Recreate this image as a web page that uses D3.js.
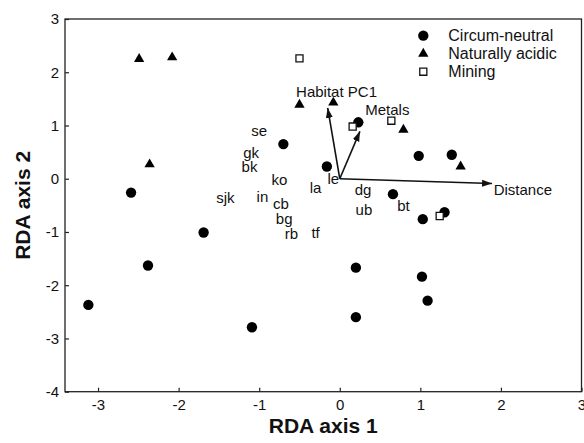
<!DOCTYPE html>
<html>
  <head>
    <meta charset="UTF-8" />
    <style>
      body {
        margin: 0;
        background: #fff;
        font-family: "Liberation Sans", Arial, sans-serif;
      }
      svg text {
        fill: #111;
      }
    </style>
  </head>
  <body>
    <svg></svg>
    <script src="https://d3js.org/d3.v7.min.js"></script>
    <script>
      // Sites: RDA axis 1 / axis 2 scores, by group
      let neutralX = [-0.70, -0.16, 0.23, 0.98, 1.39, 0.66, 1.03, 1.30, 0.20, 1.02, 1.09, 0.20, -3.12, -2.38, -1.69, -1.09, -2.59];
      let neutralY = [0.65, 0.23, 1.06, 0.43, 0.45, -0.29, -0.76, -0.63, -1.67, -1.84, -2.29, -2.60, -2.37, -1.63, -1.01, -2.79, -0.26];

      let acidicX = [-2.49, -2.08, -2.36, -0.50, -0.08, 0.79, 1.50];
      let acidicY = [2.25, 2.28, 0.27, 1.39, 1.43, 0.92, 0.23];

      let miningX = [-0.50, 0.16, 0.64, 1.24];
      let miningY = [2.26, 0.98, 1.09, -0.70];

      // Species labels
      let speciesNames = ["se", "gk", "bk", "ko", "sjk", "in", "cb", "bg", "rb", "tf", "la", "le", "dg", "ub", "bt"];
      let speciesX = [-1.00, -1.10, -1.12, -0.75, -1.42, -0.96, -0.73, -0.69, -0.60, -0.30, -0.30, -0.08, 0.29, 0.30, 0.79];
      let speciesY = [0.89, 0.47, 0.22, -0.04, -0.37, -0.35, -0.49, -0.77, -1.05, -1.03, -0.19, -0.01, -0.22, -0.60, -0.52];

      // Environmental vectors
      let vectorNames = ["Habitat PC1", "Metals", "Distance"];
      let vectorX = [-0.15, 0.25, 1.89];
      let vectorY = [1.33, 0.89, -0.09];
      let vectorLabelX = [-0.04, 0.59, 1.91];
      let vectorLabelY = [1.64, 1.30, -0.21];
      let vectorAnchor = ["middle", "middle", "start"];

      let xTicks = [-3, -2, -1, 0, 1, 2, 3];
      let yTicks = [-4, -3, -2, -1, 0, 1, 2, 3];

      let groups = ["Circum-neutral", "Naturally acidic", "Mining"];

      let width = 584,
        height = 443;
      let margin = { top: 19, right: 2.5, bottom: 51.3, left: 65 };

      let svg = d3.select("svg").attr("width", width).attr("height", height);

      let x = d3
        .scaleLinear()
        .domain([-3.41, 3])
        .range([margin.left, width - margin.right]);
      let y = d3
        .scaleLinear()
        .domain([-4, 3])
        .range([height - margin.bottom, margin.top]);

      // symbols
      let symbolFor = {
        "Circum-neutral": d3.symbol().type(d3.symbolCircle).size(84)(),
        "Naturally acidic": d3.symbol().type(d3.symbolTriangle).size(46)(),
        Mining: d3.symbol().type(d3.symbolSquare).size(50)(),
      };
      let fillFor = { "Circum-neutral": "#000", "Naturally acidic": "#000", Mining: "#fff" };

      // plain hyphen, no decimals
      let fmt = (d) => String(d);

      // axes
      let xAxis = svg
        .append("g")
        .attr("transform", "translate(0," + (height - margin.bottom) + ")")
        .call(d3.axisBottom(x).tickValues(xTicks).tickFormat(fmt).tickSizeInner(-4).tickSizeOuter(0).tickPadding(8));
      let yAxis = svg
        .append("g")
        .attr("transform", "translate(" + margin.left + ",0)")
        .call(d3.axisLeft(y).tickValues(yTicks).tickFormat(fmt).tickSizeInner(-4).tickSizeOuter(0).tickPadding(6));

      [xAxis, yAxis].forEach((a) => {
        a.select(".domain").remove();
        a.selectAll("line").attr("stroke", "#222").attr("stroke-width", 1.2);
        a.selectAll("text")
          .attr("font-family", "'Liberation Sans', Arial, sans-serif")
          .attr("font-size", 15)
          .attr("fill", "#111");
      });

      // frame
      svg
        .append("rect")
        .attr("x", x.range()[0])
        .attr("y", y.range()[1])
        .attr("width", x.range()[1] - x.range()[0])
        .attr("height", y.range()[0] - y.range()[1])
        .attr("fill", "none")
        .attr("stroke", "#222")
        .attr("stroke-width", 1.3);

      // axis titles
      svg
        .append("text")
        .attr("x", (x.range()[0] + x.range()[1]) / 2)
        .attr("y", 433)
        .attr("text-anchor", "middle")
        .attr("font-size", 21)
        .attr("font-weight", "bold")
        .text("RDA axis 1");

      svg
        .append("text")
        .attr("transform", "translate(30," + (y.range()[0] + y.range()[1]) / 2 + ") rotate(-90)")
        .attr("text-anchor", "middle")
        .attr("font-size", 21)
        .attr("font-weight", "bold")
        .text("RDA axis 2");

      // arrow marker
      svg
        .append("defs")
        .append("marker")
        .attr("id", "arrow")
        .attr("viewBox", "0 -4 10 8")
        .attr("refX", 10)
        .attr("refY", 0)
        .attr("markerUnits", "userSpaceOnUse")
        .attr("markerWidth", 10)
        .attr("markerHeight", 8)
        .attr("orient", "auto")
        .append("path")
        .attr("d", "M0,-3.5L10,0L0,3.5Z")
        .attr("fill", "#111");

      // species labels
      svg
        .append("g")
        .selectAll("text")
        .data(speciesNames)
        .enter()
        .append("text")
        .attr("x", (d, i) => x(speciesX[i]))
        .attr("y", (d, i) => y(speciesY[i]))
        .attr("dy", "0.3em")
        .attr("text-anchor", "middle")
        .attr("font-size", 15)
        .text((d) => d);

      // site points
      let sites = [];
      neutralX.forEach((v, i) => sites.push({ g: "Circum-neutral", x: v, y: neutralY[i] }));
      acidicX.forEach((v, i) => sites.push({ g: "Naturally acidic", x: v, y: acidicY[i] }));
      miningX.forEach((v, i) => sites.push({ g: "Mining", x: v, y: miningY[i] }));

      svg
        .append("g")
        .selectAll("path")
        .data(sites)
        .enter()
        .append("path")
        .attr("d", (d) => symbolFor[d.g])
        .attr("transform", (d) => "translate(" + x(d.x) + "," + y(d.y) + ")")
        .attr("fill", (d) => fillFor[d.g])
        .attr("stroke", "#111")
        .attr("stroke-width", (d) => (d.g == "Mining" ? 1.3 : 0));

      // vectors
      let vec = svg.append("g");
      vec
        .selectAll("line")
        .data(vectorNames)
        .enter()
        .append("line")
        .attr("x1", x(0))
        .attr("y1", y(0))
        .attr("x2", (d, i) => x(vectorX[i]))
        .attr("y2", (d, i) => y(vectorY[i]))
        .attr("stroke", "#111")
        .attr("stroke-width", 1.6)
        .attr("marker-end", "url(#arrow)");
      vec
        .selectAll("text")
        .data(vectorNames)
        .enter()
        .append("text")
        .attr("x", (d, i) => x(vectorLabelX[i]))
        .attr("y", (d, i) => y(vectorLabelY[i]))
        .attr("dy", "0.35em")
        .attr("text-anchor", (d, i) => vectorAnchor[i])
        .attr("font-size", 15)
        .text((d) => d);

      // legend
      let legend = svg.append("g").attr("transform", "translate(423.3,35.7)");
      let item = legend
        .selectAll("g")
        .data(groups)
        .enter()
        .append("g")
        .attr("transform", (d, i) => "translate(0," + i * 18 + ")");
      item
        .append("path")
        .attr("d", (d) => symbolFor[d])
        .attr("fill", (d) => fillFor[d])
        .attr("stroke", "#111")
        .attr("stroke-width", (d) => (d == "Mining" ? 1.3 : 0));
      item
        .append("text")
        .attr("x", 25)
        .attr("dy", "0.35em")
        .attr("font-size", 16)
        .text((d) => d);
    </script>
  </body>
</html>
